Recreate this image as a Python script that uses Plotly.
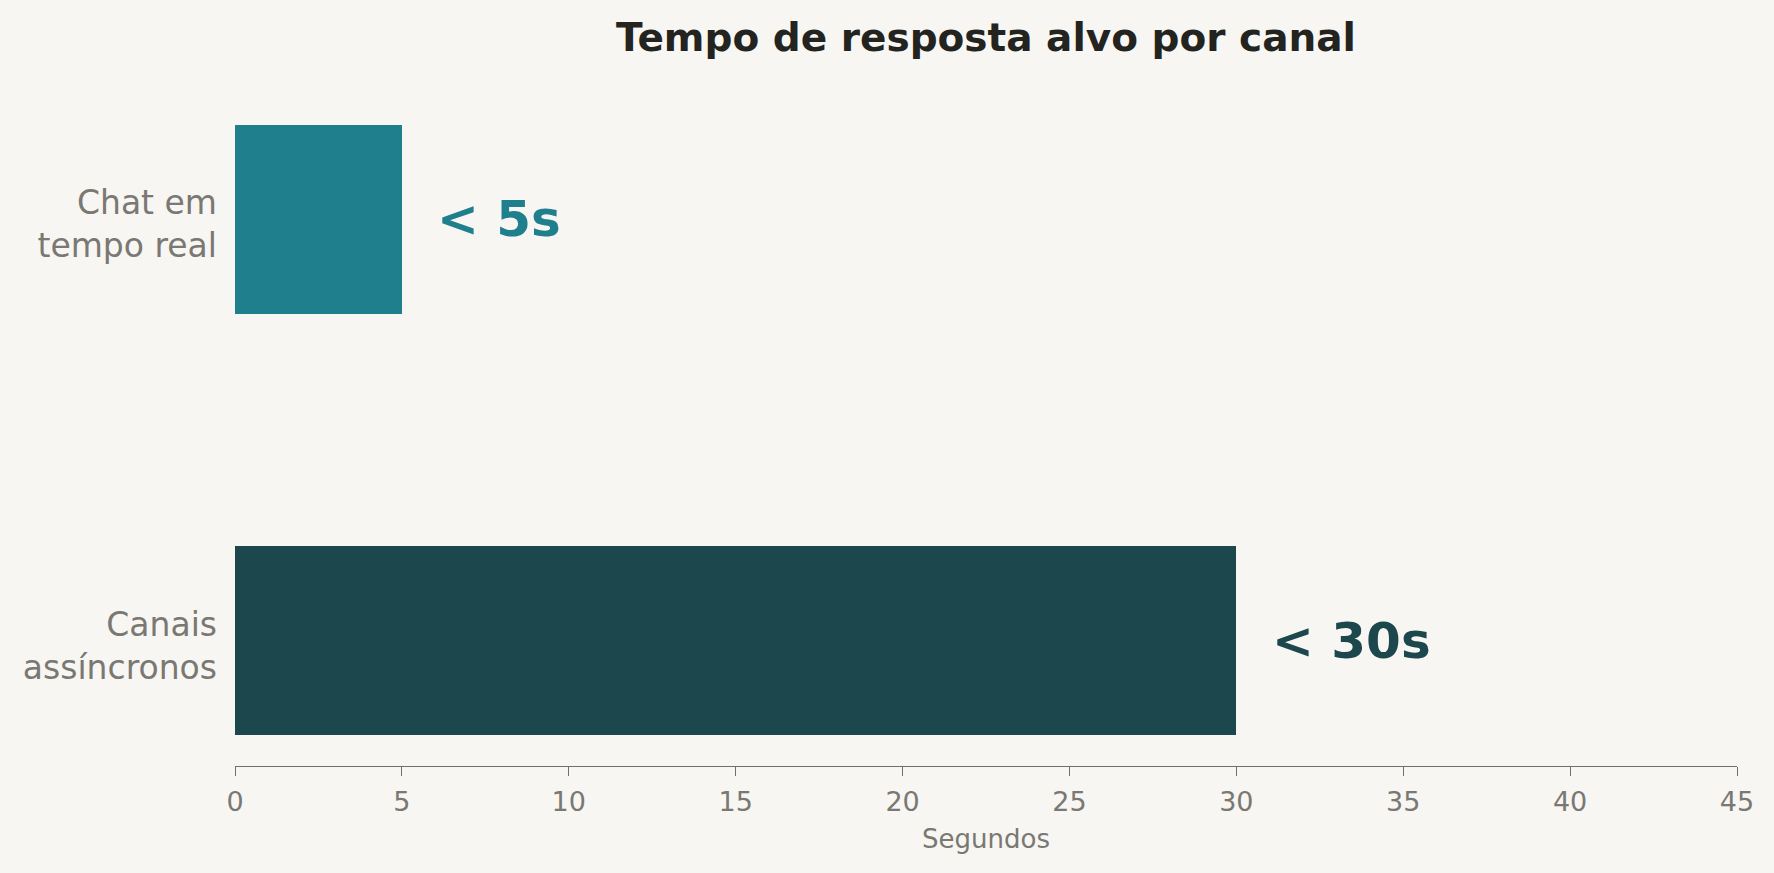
import plotly.graph_objects as go

# Data
categories = ["Chat em<br>tempo real", "Canais<br>assíncronos"]
values = [5, 30]
value_labels = ["< 5s", "< 30s"]
bar_colors = ["#207F8C", "#1C474D"]
x_ticks = [0, 5, 10, 15, 20, 25, 30, 35, 40, 45]

BG = "#F7F6F2"
GRAY = "#7A7872"
FONT = "DejaVu Sans"

fig = go.Figure()
fig.add_trace(go.Bar(
    x=values,
    y=categories,
    orientation="h",
    width=0.45,
    marker=dict(color=bar_colors, line=dict(width=0)),
    hoverinfo="skip",
    showlegend=False,
))

for v, lab, cat, col in zip(values, value_labels, categories, bar_colors):
    fig.add_annotation(
        x=v + 1, y=cat, xref="x", yref="y",
        text=f"<b>{lab}</b>", showarrow=False,
        xanchor="left", yanchor="middle",
        font=dict(family=FONT, size=50, color=col),
    )

fig.update_layout(
    width=1774, height=873,
    paper_bgcolor=BG, plot_bgcolor=BG,
    margin=dict(l=235, r=37, t=93.5, b=107, pad=0),
    font=dict(family=FONT, color=GRAY),
    title=dict(
        text="<b>Tempo de resposta alvo por canal</b>",
        x=0.5, xref="paper", xanchor="center",
        y=1 - 37 / 873, yref="container", yanchor="middle",
        font=dict(family=FONT, size=39, color="#23231F"),
    ),
    bargap=0,
)

fig.update_xaxes(
    range=[0, 45],
    tickvals=x_ticks,
    ticktext=[str(t) for t in x_ticks],
    showgrid=False, zeroline=False,
    showline=True, linecolor="#6F6F6F", linewidth=1.4,
    ticks="outside", ticklen=9, tickwidth=1.3, tickcolor="#6F6F6F",
    tickfont=dict(family=FONT, size=27, color=GRAY),
    ticklabelstandoff=2,
    title=dict(text="Segundos", font=dict(family=FONT, size=26, color=GRAY), standoff=14),
    fixedrange=True,
)
fig.update_yaxes(
    type="category",
    categoryorder="array", categoryarray=categories,
    range=[1.2975, -0.2975],
    showgrid=False, zeroline=False, showline=False,
    ticks="",
    tickfont=dict(family=FONT, size=33, color=GRAY),
    ticklabelstandoff=17,
    ticklabelshift=-5,
    fixedrange=True,
)

fig.write_html(
    "out.html",
    config={"displayModeBar": False},
    post_script="document.body.style.margin='0';document.body.style.overflow='hidden';document.body.style.background='#F7F6F2';",
)
